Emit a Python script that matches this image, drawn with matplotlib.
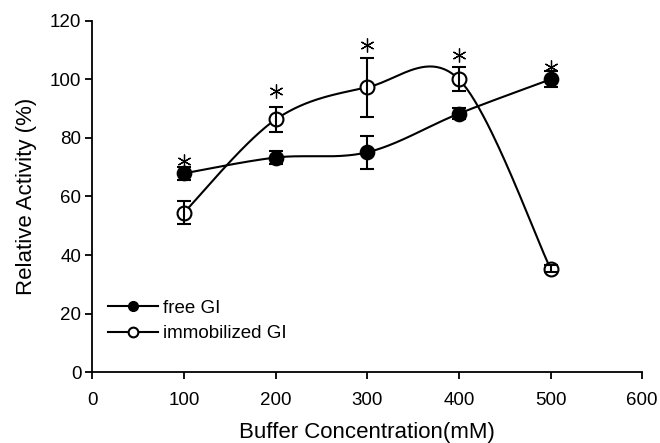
import numpy as np
import matplotlib
matplotlib.use("Agg")
import matplotlib.pyplot as plt

plt.rcParams['font.family'] = ['Liberation Sans', 'DejaVu Sans']

# data
conc = [100, 200, 300, 400, 500]
free_gi = [67.9, 73.3, 75.1, 88.3, 100.0]
free_err = [2.3, 2.2, 5.7, 2.0, 2.7]
immob_gi = [54.5, 86.3, 97.3, 100.0, 35.3]
immob_err = [3.8, 4.4, 10.0, 4.1, 1.2]
star_y = [72, 96, 111.7, 108.3, 104.3]

xticks = [0, 100, 200, 300, 400, 500, 600]
yticks = [0, 20, 40, 60, 80, 100, 120]


def smooth(x, y, n=50):
    # excel style smoothed line (catmull-rom as bezier pieces)
    p = np.column_stack([x, y]).astype(float)
    pts = np.vstack([p[0], p, p[-1]])
    out = []
    t = np.linspace(0, 1, n)[:, None]
    for i in range(1, len(pts) - 2):
        p0, p3 = pts[i], pts[i + 1]
        p1 = p0 + (pts[i + 1] - pts[i - 1]) / 6
        p2 = p3 - (pts[i + 2] - pts[i]) / 6
        seg = ((1 - t) ** 3) * p0 + 3 * ((1 - t) ** 2) * t * p1 \
            + 3 * (1 - t) * t ** 2 * p2 + t ** 3 * p3
        out.append(seg)
    out = np.vstack(out)
    return out[:, 0], out[:, 1]


fig = plt.figure(figsize=(6.6, 4.43), dpi=100)
ax = fig.add_axes([0.140, 0.160, 0.833, 0.793])

# curves
sx, sy = smooth(conc, free_gi)
ax.plot(sx, sy, color='black', lw=1.5, zorder=2)
sx, sy = smooth(conc, immob_gi)
ax.plot(sx, sy, color='black', lw=1.5, zorder=2)

# markers
ax.plot(conc, free_gi, 'o', ms=10, mfc='black', mec='black', mew=1.3, zorder=3)
ax.plot(conc, immob_gi, 'o', ms=10, mfc='white', mec='black', mew=1.5, zorder=3)

# error bars (drawn over the markers like the original)
ax.errorbar(conc, free_gi, yerr=free_err, fmt='none', ecolor='black',
            elinewidth=1.5, capsize=5, capthick=1.5, zorder=4)
ax.errorbar(conc, immob_gi, yerr=immob_err, fmt='none', ecolor='black',
            elinewidth=1.5, capsize=5, capthick=1.5, zorder=4)

# significance asterisks
ax.plot(conc, star_y, ls='none', marker=(6, 2, 0), ms=10, mew=0.9,
        color='black', zorder=5, clip_on=False)

# legend proxies
ax.plot([], [], '-o', color='black', lw=1.5, ms=7, mfc='black', label='free GI')
ax.plot([], [], '-o', color='black', lw=1.5, ms=7, mfc='white', mew=1.5,
        label='immobilized GI')
ax.legend(loc='center left', bbox_to_anchor=(0.028, 0.146), frameon=False,
          fontsize=13.5, handlelength=2.7, handletextpad=0.25,
          borderpad=0, borderaxespad=0, labelspacing=0.45)

ax.set_xlim(0, 600)
ax.set_ylim(0, 120)
ax.set_xticks(xticks)
ax.set_yticks(yticks)
ax.tick_params(axis='x', labelsize=13.5, length=5, width=1.3, pad=9)
ax.tick_params(axis='y', labelsize=13.5, length=5, width=1.3, pad=3)
for s in ['top', 'right']:
    ax.spines[s].set_visible(False)
for s in ['left', 'bottom']:
    ax.spines[s].set_linewidth(1.3)

ax.set_xlabel('Buffer Concentration(mM)', fontsize=16, labelpad=10)
ax.set_ylabel('Relative Activity (%)', fontsize=16, labelpad=9)

fig.savefig('out.png', dpi=100)
